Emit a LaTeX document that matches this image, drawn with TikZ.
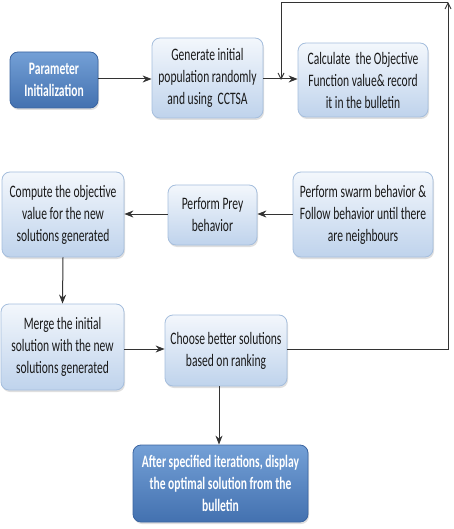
\documentclass[tikz,border=0pt]{standalone}
\usepackage{fontspec}
\setmainfont{Carlito}[FakeStretch=0.66]
\usetikzlibrary{arrows.meta,shadows}
\definecolor{lightTop}{HTML}{F3F7FC}
\definecolor{lightBot}{HTML}{BFD3EC}
\definecolor{lightBorder}{HTML}{A5BEDD}
\definecolor{darkTop}{HTML}{74A0D6}
\definecolor{darkBot}{HTML}{4371B0}
\definecolor{darkBorder}{HTML}{3A64A0}
\definecolor{lineGray}{HTML}{333333}
\tikzset{
  box/.style={rounded corners=8pt, align=center, inner sep=2pt,
    font=\fontsize{17.5}{22}\selectfont,
    drop shadow={shadow xshift=1pt, shadow yshift=-2pt, opacity=0.25, fill=gray}},
  lightbox/.style={box, draw=lightBorder, line width=0.8pt, top color=lightTop, bottom color=lightBot, text=black!90},
  darkbox/.style={box, draw=darkBorder, line width=0.8pt, top color=darkTop, bottom color=darkBot, text=white,
    font=\fontsize{17.5}{22}\selectfont\bfseries},
  flow/.style={draw=lineGray, line width=1pt, -{Stealth[length=9pt,width=7pt]}},
  loopline/.style={draw=lineGray, line width=0.9pt, -{Straight Barb[length=6pt,width=6pt]}}
}
\begin{document}
\begin{tikzpicture}[x=1pt,y=-1pt]
\useasboundingbox (0,0) rectangle (453,529);
\node[darkbox, minimum width=88pt, minimum height=56pt] (p) at (54,80) {Parameter\\Initialization};
\node[lightbox, minimum width=111pt, minimum height=80pt] (g) at (207.5,78) {Generate initial\\population randomly\\and using\ \ CCTSA};
\node[lightbox, minimum width=130pt, minimum height=74pt] (c) at (363,80) {Calculate\ \ the Objective\\Function value\& record\\it in the bulletin};
\node[lightbox, minimum width=122pt, minimum height=85pt] (comp) at (63,214.5) {Compute the objective\\value for the new\\solutions generated};
\node[lightbox, minimum width=89pt, minimum height=60pt] (prey) at (212.5,215) {Perform Prey\\behavior};
\node[lightbox, minimum width=140pt, minimum height=85pt] (sw) at (363,214.5) {Perform swarm behavior \&\\Follow behavior until there\\are neighbours};
\node[lightbox, minimum width=123pt, minimum height=86pt] (m) at (62.5,347) {Merge the initial\\solution with the new\\solutions generated};
\node[lightbox, minimum width=122pt, minimum height=71pt] (ch) at (226,350.5) {Choose better solutions\\based on ranking};
\node[darkbox, minimum width=175pt, minimum height=77pt] (f) at (220.5,483.5) {After specified iterations, display\\the optimal solution from the\\bulletin};
\coordinate (tr) at (448,2);
\coordinate (jn) at (281,80);
\path[flow] (p.east |- 0,79) -- (g.west |- 0,79);
\path[flow] (g.east |- 0,79) -- (c.west |- 0,79);
\path[flow] (sw.west |- 0,214) -- (prey.east |- 0,214);
\path[flow] (prey.west |- 0,214) -- (comp.east |- 0,214);
\path[flow] (comp.south) -- (m.north);
\path[flow] (m.east |- 0,349) -- (ch.west |- 0,349);
\path[flow] (ch.south -| 219,0) -- (f.north -| 219,0);
\path[loopline] (ch.east |- 0,349) -| (tr);
\path[loopline] (tr) -| (jn);
\end{tikzpicture}
\end{document}
